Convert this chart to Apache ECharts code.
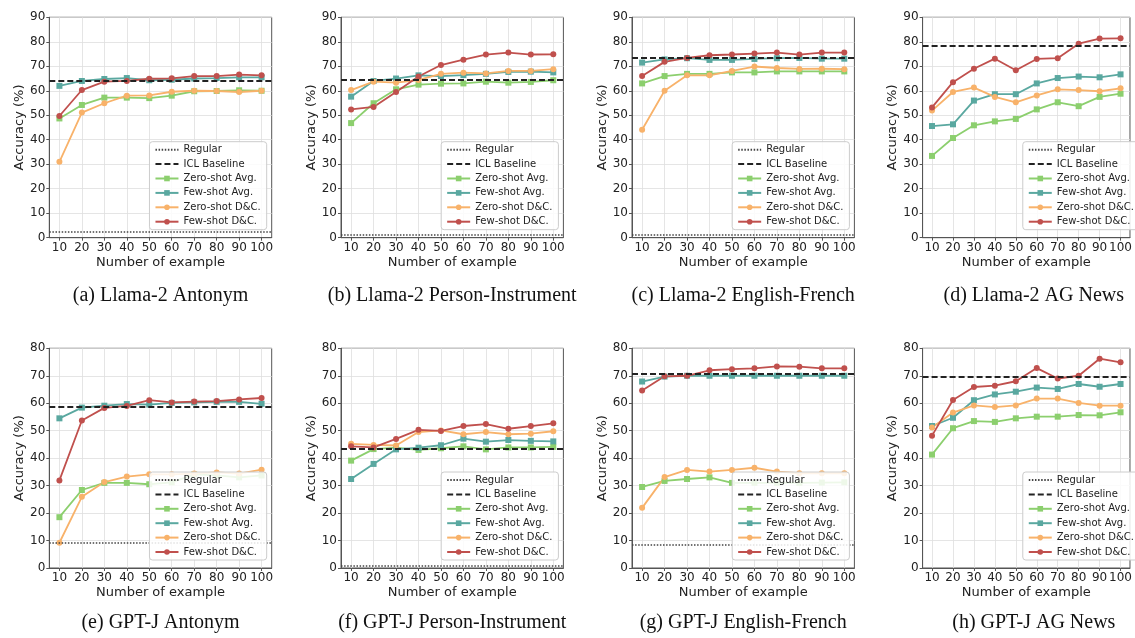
<!DOCTYPE html>
<html><head><meta charset="utf-8">
<script src="https://cdn.jsdelivr.net/npm/echarts@6/dist/echarts.min.js"></script>
<style>html,body{margin:0;padding:0;background:#fff}#c{width:1135px;height:638px}</style>
</head><body><div id="c"></div>
<script>
// ---- data ----
const exampleCounts = [10, 20, 30, 40, 50, 60, 70, 80, 90, 100];
const captions = [
  '(a) Llama-2 Antonym', '(b) Llama-2 Person-Instrument', '(c) Llama-2 English-French', '(d) Llama-2 AG News',
  '(e) GPT-J Antonym', '(f) GPT-J Person-Instrument', '(g) GPT-J English-French', '(h) GPT-J AG News'
];
const yAxisMax = [90, 90, 90, 90, 80, 80, 80, 80];
const yTickStep = 10;
const regularAcc = [2.4, 1.2, 1.2, null, 9.3, 0.9, 8.4, null];
const iclBaselineAcc = [64.0, 64.4, 73.5, 78.4, 58.6, 43.3, 70.8, 69.6];
const zeroShotAvg = [
  [48.7, 54.2, 57.2, 57.2, 57.0, 58.0, 59.8, 59.9, 60.2, 60.0],
  [46.8, 54.9, 60.6, 62.5, 62.9, 63.0, 63.7, 63.3, 63.6, 64.3],
  [63.0, 66.0, 66.9, 66.9, 67.5, 67.5, 67.9, 67.9, 67.9, 67.9],
  [33.4, 40.7, 45.9, 47.5, 48.5, 52.4, 55.3, 53.7, 57.5, 58.8],
  [18.5, 28.4, 31.0, 31.0, 30.5, 31.2, 34.1, 33.7, 33.0, 33.7],
  [39.1, 43.3, 43.8, 43.0, 43.6, 44.3, 43.2, 43.9, 43.9, 44.1],
  [29.5, 31.7, 32.4, 33.0, 31.0, 31.0, 31.0, 31.0, 31.1, 31.2],
  [41.3, 50.9, 53.5, 53.2, 54.5, 55.1, 55.1, 55.7, 55.6, 56.7]
];
const fewShotAvg = [
  [62.0, 64.0, 64.8, 65.2, 64.3, 64.5, 65.0, 65.2, 65.5, 65.5],
  [57.6, 64.0, 65.0, 66.3, 66.0, 66.4, 66.9, 67.7, 67.8, 67.5],
  [71.5, 72.8, 73.3, 72.6, 72.6, 73.0, 73.3, 73.4, 73.1, 73.1],
  [45.6, 46.3, 56.0, 58.6, 58.6, 63.0, 65.2, 65.8, 65.5, 66.7],
  [54.5, 58.4, 59.1, 59.7, 59.5, 60.1, 60.3, 60.5, 60.5, 59.8],
  [32.4, 37.9, 43.2, 43.8, 44.7, 47.1, 46.0, 46.6, 46.3, 46.1],
  [67.9, 69.7, 70.0, 70.0, 70.0, 70.0, 70.0, 70.0, 70.0, 70.0],
  [51.7, 54.7, 61.1, 63.2, 64.2, 65.7, 65.2, 67.0, 66.0, 67.0]
];
const zeroShotDC = [
  [31.0, 51.1, 54.9, 58.0, 58.1, 59.6, 60.0, 59.9, 59.5, 60.0],
  [60.3, 63.7, 63.3, 64.4, 66.9, 67.4, 67.1, 68.1, 68.1, 68.8],
  [44.1, 60.0, 66.3, 66.3, 68.1, 69.9, 69.3, 68.9, 69.0, 68.8],
  [51.9, 59.5, 61.3, 57.5, 55.3, 58.1, 60.6, 60.3, 59.8, 61.0],
  [9.2, 25.9, 31.3, 33.3, 34.1, 34.1, 34.4, 34.8, 34.4, 35.8],
  [45.2, 44.8, 44.6, 49.5, 50.1, 48.7, 49.5, 48.7, 48.9, 49.8],
  [21.9, 33.1, 35.7, 35.1, 35.7, 36.5, 35.1, 34.5, 34.5, 34.5],
  [51.2, 56.6, 59.2, 58.6, 59.2, 61.7, 61.7, 60.1, 59.1, 59.1]
];
const fewShotDC = [
  [49.7, 60.3, 63.7, 64.0, 64.9, 65.1, 66.0, 66.0, 66.6, 66.3],
  [52.4, 53.4, 59.5, 65.8, 70.5, 72.7, 74.8, 75.6, 74.8, 74.9],
  [66.0, 71.8, 73.4, 74.5, 74.8, 75.2, 75.6, 74.8, 75.6, 75.6],
  [53.2, 63.5, 69.0, 73.1, 68.4, 73.0, 73.3, 79.2, 81.3, 81.4],
  [31.9, 53.7, 58.3, 59.0, 61.1, 60.3, 60.6, 60.8, 61.4, 61.9],
  [44.3, 43.9, 47.0, 50.3, 49.9, 51.7, 52.4, 50.7, 51.7, 52.7],
  [64.6, 69.8, 70.0, 72.0, 72.4, 72.7, 73.4, 73.3, 72.7, 72.7],
  [48.2, 61.2, 65.9, 66.4, 68.0, 72.8, 69.0, 70.0, 76.2, 74.9]
];
const seriesNames = ['Regular', 'ICL Baseline', 'Zero-shot Avg.', 'Few-shot Avg.', 'Zero-shot D&C.', 'Few-shot D&C.'];

// ---- layout / style ----
const W = 1135, H = 638;
const colLeft = [49.3, 341, 632, 922.6];
const plotW = 222.4;
const rowTop = [17.3, 348.3];
const rowH = [220.4, 219.7];
const captionY = [296, 623];
const SANS = 'DejaVu Sans';
const colors = { zeroAvg: '#8ccf6e', fewAvg: '#5aa8a0', zeroDC: '#f8b26a', fewDC: '#c0504d' };
const axisCol = '#555';
const clear = 'rgba(0,0,0,0)';

const grids = [], xAxes = [], yAxes = [], series = [], legends = [], graphics = [];
const span = exampleCounts[exampleCounts.length - 1] - exampleCounts[0];
const xMin = exampleCounts[0] - 0.05 * span;
const xMax = exampleCounts[exampleCounts.length - 1] + 0.05 * span;

for (let i = 0; i < 8; i++) {
  const r = Math.floor(i / 4), c = i % 4;
  const left = colLeft[c], top = rowTop[r], h = rowH[r];
  grids.push({ left: left, top: top, width: plotW, height: h, show: true, borderColor: axisCol, borderWidth: 1, backgroundColor: 'transparent', containLabel: false });
  xAxes.push({
    type: 'value', gridIndex: i, min: xMin, max: xMax,
    name: 'Number of example', nameLocation: 'middle', nameGap: 18,
    nameTextStyle: { fontFamily: SANS, fontSize: 13, color: '#222' },
    axisLine: { show: true, onZero: false, lineStyle: { color: axisCol, width: 1 } },
    axisTick: { show: true, inside: false, length: 3, lineStyle: { color: axisCol }, customValues: exampleCounts },
    axisLabel: { show: true, margin: 4, fontFamily: SANS, fontSize: 12, color: '#222', customValues: exampleCounts },
    splitLine: { show: true, lineStyle: { color: '#dedede', width: 0.8 } }
  });
  yAxes.push({
    type: 'value', gridIndex: i, min: 0, max: yAxisMax[i], interval: yTickStep,
    name: 'Accuracy (%)', nameLocation: 'middle', nameGap: 17,
    nameTextStyle: { fontFamily: SANS, fontSize: 13, color: '#222' },
    axisLine: { show: true, onZero: false, lineStyle: { color: axisCol, width: 1 } },
    axisTick: { show: true, inside: false, length: 3, lineStyle: { color: axisCol } },
    axisLabel: { show: true, margin: 4, fontFamily: SANS, fontSize: 12, color: '#222' },
    splitLine: { show: true, lineStyle: { color: '#dedede', width: 0.8 } }
  });
  const base = { type: 'line', xAxisIndex: i, yAxisIndex: i, animation: false, silent: true, emphasis: { disabled: true } };
  series.push(Object.assign({}, base, {
    name: 'Regular', data: [], symbol: 'none',
    lineStyle: { color: '#444', width: 1.5, type: [1.5, 1.6] },
    itemStyle: { color: clear, borderColor: clear, borderWidth: 0 },
    markLine: { silent: true, animation: false, symbol: ['none', 'none'], label: { show: false },
      lineStyle: { color: '#444', width: 1.5, type: [1.5, 1.6] },
      data: regularAcc[i] == null ? [] : [{ yAxis: regularAcc[i] }] }
  }));
  series.push(Object.assign({}, base, {
    name: 'ICL Baseline', data: [], symbol: 'none',
    lineStyle: { color: '#222', width: 1.8, type: [6, 3] },
    itemStyle: { color: clear, borderColor: clear, borderWidth: 0 },
    markLine: { silent: true, animation: false, symbol: ['none', 'none'], label: { show: false },
      lineStyle: { color: '#222', width: 1.8, type: [6, 3] },
      data: [{ yAxis: iclBaselineAcc[i] }] }
  }));
  const mk = (name, arr, col, sym) => Object.assign({}, base, {
    name: name, data: exampleCounts.map((x, j) => [x, arr[i][j]]),
    symbol: sym, symbolSize: 6, showSymbol: true,
    lineStyle: { color: col, width: 1.8 }, itemStyle: { color: col }
  });
  series.push(mk('Zero-shot Avg.', zeroShotAvg, colors.zeroAvg, 'rect'));
  series.push(mk('Few-shot Avg.', fewShotAvg, colors.fewAvg, 'rect'));
  series.push(mk('Zero-shot D&C.', zeroShotDC, colors.zeroDC, 'circle'));
  series.push(mk('Few-shot D&C.', fewShotDC, colors.fewDC, 'circle'));

  legends.push({
    data: seriesNames, orient: 'vertical',
    right: W - (left + plotW - 5), bottom: H - (top + h - 8),
    itemWidth: 23, itemHeight: 7, itemGap: 4.4,
    padding: [3, 6, 3, 5],
    backgroundColor: 'rgba(255,255,255,0.85)', borderColor: '#cccccc', borderWidth: 1, borderRadius: 3,
    textStyle: { fontFamily: SANS, fontSize: 10, color: '#222' },
    selectedMode: false, z: 10
  });
  graphics.push({
    type: 'text', x: left + plotW / 2, y: captionY[r],
    style: { text: captions[i], textAlign: 'center', textVerticalAlign: 'middle', fontFamily: 'Liberation Serif', fontSize: 20, fill: '#111' }
  });
}

const chart = echarts.init(document.getElementById('c'), null, { renderer: 'canvas', width: W, height: H });
chart.setOption({
  animation: false,
  backgroundColor: '#ffffff',
  grid: grids, xAxis: xAxes, yAxis: yAxes, series: series, legend: legends,
  graphic: graphics
});
</script></body></html>
